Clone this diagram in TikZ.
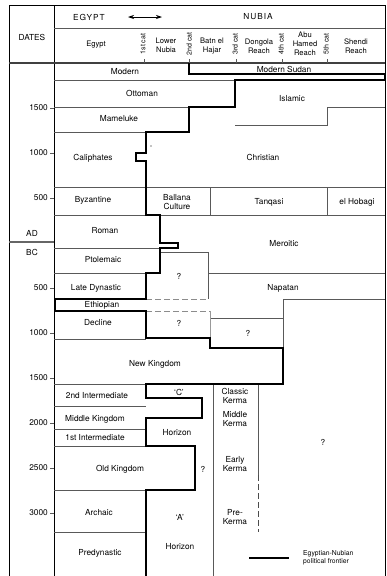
\documentclass[tikz,border=0pt]{standalone}
\usepackage{fontspec}
\setmainfont{TeX Gyre Heros}
\usetikzlibrary{arrows.meta}

\definecolor{rule}{gray}{0.35}

\begin{document}
\begin{tikzpicture}[x=1pt, y=-1pt,
	every node/.style={font=\fontsize{8.3}{9.3}\selectfont, inner sep=0pt, align=center},
	cell/.style={draw=rule, line width=0.6pt},
	border/.style={draw=black, line width=0.9pt},
	frontier/.style={draw=black, line width=1.8pt, line join=miter},
	unsure/.style={draw=black!45, line width=0.7pt, dash pattern=on 6pt off 3pt},
	colhead/.style={font=\fontsize{7.6}{8.8}\selectfont},
	cataract/.style={font=\fontsize{7}{7}\selectfont, rotate=90},
	datelbl/.style={anchor=east}]

	\useasboundingbox (0,0) rectangle (387,576);

	% header
	\draw[border] (9,576) -- (9,5) -- (385,5) -- (385,576);
	\draw[border] (54,5) -- (54,576);
	\draw[cell] (54,28) -- (385,28);
	\draw[draw=black!75, line width=1.2pt] (9,63) -- (385,63);
	\node (egypthd) at (89,17) {\addfontfeatures{LetterSpace=12}EGYPT};
	\node (nubiahd) at (258,17) {\addfontfeatures{LetterSpace=12}NUBIA};
	\coordinate (arrowL) at (128,17);
	\coordinate (arrowR) at (162,17);
	\draw[{Stealth[length=6pt,width=4pt]}-{Stealth[length=6pt,width=4pt]}, line width=0.7pt] (arrowL) -- (arrowR);
	\node (dateshd) at (32,37) {DATES};
	\node[colhead] (egyptcol) at (96,45) {Egypt};
	\node[colhead] (lowercol) at (166,45) {Lower\\Nubia};
	\node[colhead] (batncol) at (212,46) {Batn el\\Hajar};
	\node[colhead] (dongcol) at (259,46) {Dongola\\Reach};
	\node[colhead] (abucol) at (305,44) {Abu\\Hamed\\Reach};
	\node[colhead] (shendcol) at (356,46) {Shendi\\Reach};
	\node[cataract] (cat1) at (143,44) {1st cat};
	\node[cataract] (cat2) at (189,44) {2nd cat};
	\node[cataract] (cat3) at (235,44) {3rd cat};
	\node[cataract] (cat4) at (281,44) {4th cat};
	\node[cataract] (cat5) at (326,44) {5th cat};
	\foreach \x in {144,189,236,282,327}
		\draw[cell] (\x,59) -- (\x,63);

	% dates
	\foreach \d in {500,1000,1500} {
		\draw[cell] (50,243-0.09*\d) -- (54,243-0.09*\d);
		\node[datelbl] (ad\d) at (48,243-0.09*\d) {\d};
	}
	\foreach \d in {500,1000,...,3000} {
		\draw[cell] (50,243+0.09*\d) -- (54,243+0.09*\d);
		\node[datelbl] (bc\d) at (48,243+0.09*\d) {\d};
	}
	\draw[draw=black!60, line width=1.1pt] (9,242) -- (54,242);
	\node (adlbl) at (32,233) {AD};
	\node (bclbl) at (32,252) {BC};

	% periods in Egypt
	\draw[cell] (54,80) -- (235,80);
	\draw[cell] (54,107) -- (189,107);
	\draw[cell] (54,132) -- (146,132);
	\draw[cell] (54,187) -- (385,187);
	\draw[cell] (54,215) -- (385,215);
	\draw[cell] (54,248) -- (160,248);
	\draw[cell] (54,273) -- (146,273);
	\draw[cell] (54,339) -- (146,339);
	\draw[cell] (54,384) -- (146,384);
	\draw[cell] (54,406) -- (146,406);
	\draw[cell] (54,429) -- (146,429);
	\draw[cell] (54,446) -- (146,446);
	\draw[cell] (54,490) -- (146,490);
	\draw[cell] (54,532) -- (146,532);

	% periods in Nubia
	\draw[cell] (235,125) -- (327,125) -- (327,107) -- (385,107);
	\draw[cell] (210,187) -- (210,215);
	\draw[cell] (327,187) -- (327,215);
	\draw[cell] (160,252) -- (208,252) -- (208,299);
	\draw[cell] (208,273) -- (385,273);
	\draw[cell] (385,299) -- (283,299) -- (283,348);
	\draw[cell] (211,318) -- (283,318);
	\draw[draw=black!40, line width=0.6pt] (210,311) -- (210,338);
	\draw[unsure] (146,299) -- (208,299);
	\draw[unsure] (146,311) -- (210,311);
	\draw[cell] (213,384) -- (213,576);
	\draw[cell] (258,384) -- (258,475);
	\draw[unsure, draw=black!70] (258,475) -- (258,532);
	\fill (151,146) circle (0.6);

	% political frontier
	\draw[frontier] (189,63) -- (189,74) -- (385,74) -- (385,80) -- (235,80) -- (235,107)
		-- (189,107) -- (189,132) -- (146,132) -- (146,153) -- (136,153) -- (136,161)
		-- (146,161) -- (146,215) -- (160,215) -- (160,243) -- (178,243) -- (178,248)
		-- (160,248) -- (160,273) -- (146,273) -- (146,299) -- (55,299) -- (55,311)
		-- (146,311) -- (146,338) -- (210,338) -- (210,348) -- (283,348) -- (283,384)
		-- (146,384) -- (146,398) -- (202,398) -- (202,418) -- (146,418) -- (146,446)
		-- (195,446) -- (195,490) -- (146,490) -- (146,576);

	% labels
	\node (modern) at (125,72) {Modern};
	\node (modsudan) at (284,69) {Modern Sudan};
	\node (ottoman) at (142,93) {Ottoman};
	\node (islamic) at (292,99) {Islamic};
	\node (mameluke) at (119,119) {Mameluke};
	\node (caliph) at (93,158) {Caliphates};
	\node (christian) at (263,157) {Christian};
	\node (byzant) at (93,200) {Byzantine};
	\node (ballana) at (177,202) {Ballana\\Culture};
	\node (tanqasi) at (269,202) {Tanqasi};
	\node (hobagi) at (357,202) {el Hobagi};
	\node (roman) at (105,231) {Roman};
	\node (meroitic) at (284,244) {Meroitic};
	\node (ptolemaic) at (103,260) {Ptolemaic};
	\node (unkA) at (179,276) {?};
	\node (latedyn) at (96,288) {Late Dynastic};
	\node (napatan) at (283,288) {Napatan};
	\node (ethiop) at (102,305) {Ethiopian};
	\node (decline) at (98,323) {Decline};
	\node (unkB) at (179,323) {?};
	\node (unkC) at (248,333) {?};
	\node (newking) at (155,364) {New Kingdom};
	\node (secondint) at (97,396) {2nd Intermediate};
	\node (cgroup) at (179,392) {`C'};
	\node (clkerma) at (235,396) {Classic\\Kerma};
	\node (midking) at (95,419) {Middle Kingdom};
	\node (midkerma) at (235,419) {Middle\\Kerma};
	\node (firstint) at (95,438) {1st Intermediate};
	\node (horizC) at (177,433) {Horizon};
	\node (unkD) at (323,442) {?};
	\node (oldking) at (120,469) {Old Kingdom};
	\node (unkE) at (203,469) {?};
	\node (earlykerma) at (235,464) {Early\\Kerma};
	\node (archaic) at (99,513) {Archaic};
	\node (agroup) at (180,517) {`A'};
	\node (prekerma) at (235,517) {Pre-\\Kerma};
	\node (predyn) at (100,553) {Predynastic};
	\node (horizA) at (180,547) {Horizon};

	% key
	\coordinate (keyL) at (249,558);
	\coordinate (keyR) at (289,558);
	\draw[frontier, line width=1.5pt] (keyL) -- (keyR);
	\node[anchor=west, align=left, font=\fontsize{6.8}{8}\selectfont] (keytxt) at (303,558) {Egyptian-Nubian\\political frontier};
\end{tikzpicture}
\end{document}
